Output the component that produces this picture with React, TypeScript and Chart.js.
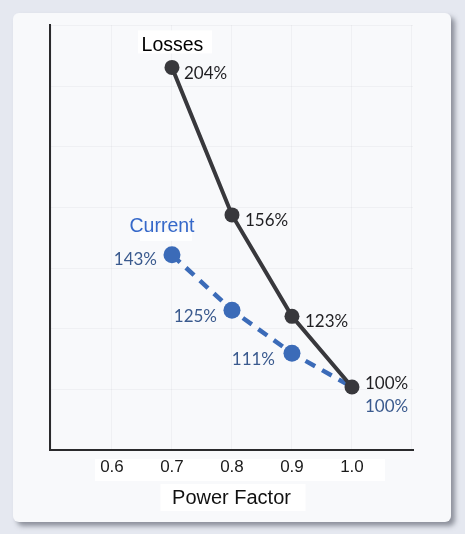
import React, { useEffect, useRef } from "react";
import { Chart, registerables } from "chart.js";

Chart.register(...registerables);

// ---- data ----
const seriesNames = ["Losses", "Current"];
const powerFactor = [0.7, 0.8, 0.9, 1.0];
const lossesPct = [204, 156, 123, 100];
const currentPct = [143, 125, 111, 100];
const xTickValues = [0.6, 0.7, 0.8, 0.9, 1.0];
const xTickLabels = ["0.6", "0.7", "0.8", "0.9", "1.0"];
const xAxisTitle = "Power Factor";

// ---- style ----
const X_MIN = 0.4967;
const X_MAX = 1.1017;
const Y_MIN = 79.5;
const Y_MAX = 217.8;
const Y_GRID_STEP = 19.73;
const X_GRID = [0.5, 0.6, 0.7, 0.8, 0.9, 1.0, 1.1];

const LOSS_COLOR = "#38383c";
const CUR_COLOR = "#3b6bb8";
const LOSS_TEXT = "#1f1f22";
const CUR_TEXT = "#3a5a8e";
const CUR_TITLE = "#3568c9";

const lossOffsets: [number, number, CanvasTextAlign][] = [
  [12, 6, "left"],
  [13, 6, "left"],
  [13, 5, "left"],
  [13, -3, "left"],
];
const curOffsets: [number, number, CanvasTextAlign][] = [
  [-15, 5, "right"],
  [-15, 6, "right"],
  [-17, 6, "right"],
  [13, 20, "left"],
];

const labelPlugin = {
  id: "pfLabels",
  beforeDraw(chart: any) {
    const { ctx, chartArea } = chart;
    const xs = chart.scales.x;
    ctx.save();
    ctx.fillStyle = "#ffffff";
    const first = xs.getPixelForValue(xTickValues[0]);
    const last = xs.getPixelForValue(xTickValues[xTickValues.length - 1]);
    ctx.fillRect(first - 17, chartArea.bottom + 9, last - first + 50, 22);
    const cx = (chartArea.left + chartArea.right) / 2;
    ctx.fillRect(cx - 71, chartArea.bottom + 34, 145, 27);
    ctx.restore();
  },
  beforeDatasetsDraw(chart: any) {
    const { ctx } = chart;
    const xs = chart.scales.x;
    const ys = chart.scales.y;
    ctx.save();
    ctx.fillStyle = "#ffffff";
    const lx = xs.getPixelForValue(powerFactor[0]);
    const ly = ys.getPixelForValue(lossesPct[0]);
    ctx.fillRect(lx - 34, ly - 37, 74, 23);
    const cy = ys.getPixelForValue(currentPct[0]);
    ctx.fillRect(lx - 32, cy - 23, 52, 9);
    ctx.restore();
  },
  afterDatasetsDraw(chart: any) {
    const { ctx } = chart;
    const xs = chart.scales.x;
    const ys = chart.scales.y;
    ctx.save();
    ctx.textBaseline = "middle";
    ctx.font = "17px Lato";
    const drawSet = (vals: number[], offs: [number, number, CanvasTextAlign][], color: string) => {
      ctx.fillStyle = color;
      vals.forEach((v, i) => {
        const px = xs.getPixelForValue(powerFactor[i]);
        const py = ys.getPixelForValue(v);
        ctx.textAlign = offs[i][2];
        ctx.fillText(v + "%", px + offs[i][0], py + offs[i][1]);
      });
    };
    drawSet(lossesPct, lossOffsets, LOSS_TEXT);
    drawSet(currentPct, curOffsets, CUR_TEXT);

    ctx.font = "19.5px 'Liberation Sans'";
    ctx.textAlign = "center";
    const lx = xs.getPixelForValue(powerFactor[0]);
    ctx.fillStyle = "#000000";
    ctx.fillText(seriesNames[0], lx + 0.5, ys.getPixelForValue(lossesPct[0]) - 22);
    ctx.fillStyle = CUR_TITLE;
    ctx.fillText(seriesNames[1], lx - 10, ys.getPixelForValue(currentPct[0]) - 28);
    ctx.restore();
  },
};

function PFChart() {
  const ref = useRef<HTMLCanvasElement | null>(null);
  useEffect(() => {
    if (!ref.current) return;
    const chart = new Chart(ref.current, {
      type: "line",
      data: {
        datasets: [
          {
            label: seriesNames[1],
            data: powerFactor.map((x, i) => ({ x, y: currentPct[i] })),
            borderColor: CUR_COLOR,
            backgroundColor: CUR_COLOR,
            borderWidth: 4.5,
            borderDash: [11, 8],
            pointRadius: [8.5, 8.5, 8.5, 0],
            pointHoverRadius: 0,
            pointBorderWidth: 0,
            tension: 0,
            order: 2,
          },
          {
            label: seriesNames[0],
            data: powerFactor.map((x, i) => ({ x, y: lossesPct[i] })),
            borderColor: LOSS_COLOR,
            backgroundColor: LOSS_COLOR,
            borderWidth: 4,
            pointRadius: 7.5,
            pointBorderWidth: 0,
            tension: 0,
            order: 1,
          },
        ],
      },
      options: {
        animation: false,
        responsive: false,
        layout: { padding: { left: 50, top: 25, right: 52, bottom: 16 } },
        plugins: {
          legend: { display: false },
          tooltip: { enabled: false },
        },
        scales: {
          x: {
            type: "linear",
            min: X_MIN,
            max: X_MAX,
            afterBuildTicks: (scale: any) => {
              scale.ticks = X_GRID.map((v) => ({ value: v }));
            },
            ticks: {
              padding: 7,
              color: "#1a1a1a",
              font: { family: "'Liberation Sans'", size: 17 },
              maxRotation: 0,
              autoSkip: false,
              callback: (v: any) => {
                const idx = xTickValues.findIndex((t) => Math.abs(t - Number(v)) < 1e-6);
                return idx >= 0 ? xTickLabels[idx] : "";
              },
            },
            grid: { color: "rgba(0,0,20,0.035)", drawTicks: false },
            border: { display: true, color: "#2a2a2c", width: 2 },
            title: {
              display: true,
              text: xAxisTitle,
              color: "#111111",
              font: { family: "'Liberation Sans'", size: 20 },
              padding: { top: 1.6, bottom: 8 },
            },
          },
          y: {
            type: "linear",
            min: Y_MIN,
            max: Y_MAX,
            afterBuildTicks: (scale: any) => {
              const t: any[] = [];
              for (let v = Y_MIN; v <= Y_MAX + 0.5; v += Y_GRID_STEP) t.push({ value: v });
              scale.ticks = t;
            },
            ticks: { display: false },
            grid: { color: "rgba(0,0,20,0.035)", drawTicks: false },
            border: { display: true, color: "#2a2a2c", width: 2 },
          },
        },
      },
      plugins: [labelPlugin],
    } as any);
    return () => chart.destroy();
  }, []);
  return <canvas ref={ref} width={465} height={534} style={{ position: "absolute", left: 0, top: 0, width: 465, height: 534 }} />;
}

export default function App() {
  return (
    <div style={{ position: "fixed", left: 0, top: 0, width: 465, height: 534, background: "#e5e8f0", overflow: "hidden" }}>
      <div
        style={{
          position: "absolute",
          left: 13,
          top: 13,
          width: 438,
          height: 509,
          background: "#f8f9fb",
          borderRadius: 6,
          boxShadow: "4px 4px 5px rgba(70,72,85,0.55)",
        }}
      />
      <PFChart />
    </div>
  );
}
